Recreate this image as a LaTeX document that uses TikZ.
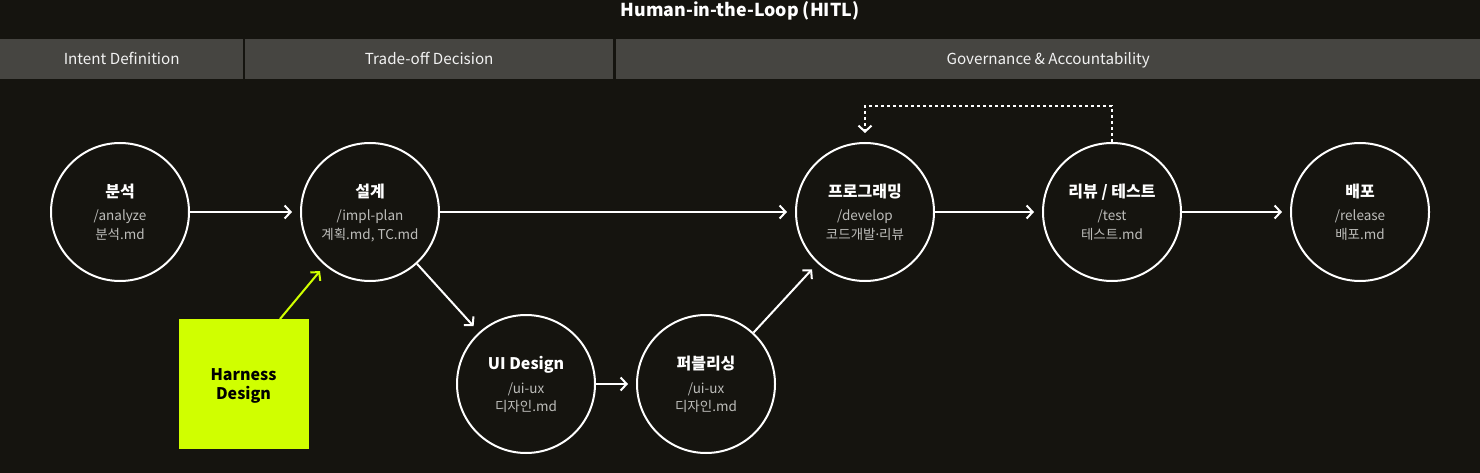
\documentclass[tikz,border=0pt]{standalone}
\usepackage{fontspec}
\setmainfont{Noto Sans CJK KR}
\newfontfamily\latinfont{Noto Sans}
\usetikzlibrary{arrows.meta}
\definecolor{bg}{HTML}{15140F}
\definecolor{hdr}{HTML}{464541}
\definecolor{subtxt}{HTML}{BDBDBA}
\definecolor{lime}{HTML}{D0FF00}
\tikzset{
  stagecircle/.style={circle, draw=white, line width=2pt, minimum size=138pt, inner sep=0pt},
  stagetitle/.style={text=white, font=\fontsize{16}{16}\selectfont\bfseries, inner sep=0pt},
  stagesub/.style={text=subtxt, font=\fontsize{13.5}{13.5}\selectfont, inner sep=0pt},
  hdrbox/.style={fill=hdr, inner sep=0pt, text height=12pt, text depth=1pt, text=white!90!gray, font=\fontsize{15.2}{15.2}\selectfont},
  flow/.style={draw=white, line width=2pt, -{Straight Barb[length=6pt,width=13pt,line width=2pt]}, shorten >=8pt},
  loopback/.style={draw=white, line width=2pt, dash pattern=on 3pt off 3pt, -{Straight Barb[length=6pt,width=13pt,line width=2pt]}, shorten >=9pt},
  harnessarrow/.style={draw=lime, line width=2pt, -{Straight Barb[length=6pt,width=13pt,line width=2pt]}}
}
\newcommand{\stagenode}[6]{%
  \node[stagecircle] (#1) at (#2,#3) {};
  \node[stagetitle, anchor=base] (#1t) at ([yshift=15pt]#1.center) {#4};
  \node[stagesub, anchor=base] (#1a) at ([yshift=-9pt]#1.center) {#5};
  \node[stagesub, anchor=base] (#1b) at ([yshift=-27pt]#1.center) {#6};
}
\begin{document}
\begin{tikzpicture}[x=1pt,y=-1pt]
\fill[bg] (0,0) rectangle (1480,473);
\useasboundingbox (0,0) rectangle (1480,473);
\node[text=white, font=\fontsize{17.8}{17.8}\selectfont\bfseries, anchor=base] (title) at (740,17) {Human-in-the-Loop (HITL)};
% header
\node[hdrbox, minimum width=243pt, minimum height=40pt, anchor=north west] (h1) at (0,39) {Intent Definition};
\node[hdrbox, minimum width=368pt, minimum height=40pt, anchor=north west] (h2) at (245,39) {Trade-off Decision};
\node[hdrbox, minimum width=864pt, minimum height=40pt, anchor=north west] (h3) at (616,39) {Governance \& Accountability};
% stages
\stagenode{ana}{120}{212}{분석}{/analyze}{분석.md}
\stagenode{plan}{370}{212}{설계}{/impl-plan}{계획.md, TC.md}
\stagenode{dev}{865}{212}{프로그래밍}{/develop}{코드개발{\latinfont ·}리뷰}
\stagenode{test}{1112}{212}{리뷰 / 테스트}{/test}{테스트.md}
\stagenode{rel}{1360}{212}{배포}{/release}{배포.md}
\stagenode{ui}{526}{384}{UI Design}{/ui-ux}{디자인.md}
\stagenode{pub}{706}{384}{퍼블리싱}{/ui-ux}{디자인.md}
% harness
\node[fill=lime, minimum width=130pt, minimum height=130pt, inner sep=0pt, anchor=north west] (har) at (179,319) {};
\node[text=black, font=\fontsize{16}{19.5}\selectfont\bfseries, align=center, inner sep=0pt] (hartext) at (243.5,386) {Harness\\Design};
\coordinate (hartip) at (320,271);
\coordinate (harfoot) at (280,319);
\draw[harnessarrow] (harfoot) -- (hartip);
% flows
\draw[flow] (ana) -- (plan);
\draw[flow] (plan) -- (dev);
\draw[flow] (dev) -- (test);
\draw[flow] (test) -- (rel);
\draw[flow] (plan) -- (ui);
\draw[flow] (ui) -- (pub);
\draw[flow] (pub) -- (dev);
% loop back
\draw[loopback] (test.north) -- ++(0,-36) -| (dev.north);
\end{tikzpicture}
\end{document}
